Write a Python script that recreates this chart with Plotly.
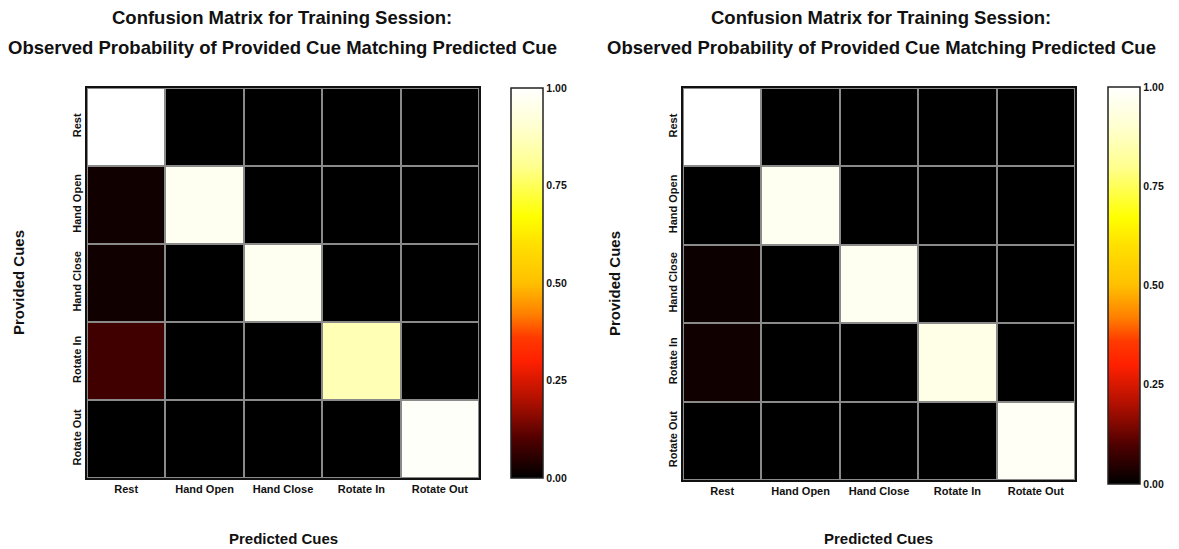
import plotly.graph_objects as go

cues = ["Rest", "Hand Open", "Hand Close", "Rotate In", "Rotate Out"]
cbar_ticks = [0.0, 0.25, 0.5, 0.75, 1.0]

# rows = provided cue, columns = predicted cue
left_matrix = [
    [1.00, 0.00, 0.00, 0.00, 0.00],
    [0.02, 0.97, 0.00, 0.00, 0.00],
    [0.02, 0.00, 0.97, 0.00, 0.00],
    [0.08, 0.00, 0.00, 0.86, 0.00],
    [0.00, 0.00, 0.00, 0.00, 0.99],
]
right_matrix = [
    [1.00, 0.00, 0.00, 0.00, 0.00],
    [0.00, 0.97, 0.00, 0.00, 0.00],
    [0.015, 0.00, 0.97, 0.00, 0.00],
    [0.02, 0.00, 0.00, 0.95, 0.00],
    [0.00, 0.00, 0.00, 0.00, 0.98],
]

title_text = ("Confusion Matrix for Training Session:",
              "Observed Probability of Provided Cue Matching Predicted Cue")

colorscale = [
    [0.00, "#000000"], [0.10, "#500000"], [0.20, "#b01000"], [0.30, "#ff2000"],
    [0.36, "#ff3a00"], [0.42, "#ff8000"], [0.50, "#ffc000"], [0.60, "#ffe000"],
    [0.67, "#ffff00"], [0.80, "#ffff90"], [0.90, "#ffffd0"], [1.00, "#ffffff"],
]

W, H = 1179, 549
FONT = "Liberation Sans, Arial, sans-serif"

def px(v):
    return v / W

def py(v):
    return 1 - v / H

panels = [
    dict(mat=left_matrix, x0=87, x1=479, y0=88, y1=478, cbx=511, cby0=88, cby1=478, cx=282),
    dict(mat=right_matrix, x0=683, x1=1075, y0=88, y1=480, cbx=1108, cby0=87, cby1=484, cx=881),
]

fig = go.Figure()
annotations = []
for i, p in enumerate(panels):
    xa = "x" if i == 0 else "x2"
    ya = "y" if i == 0 else "y2"
    fig.add_trace(go.Heatmap(
        z=p["mat"], x=cues, y=cues, xaxis=xa, yaxis=ya,
        zmin=0, zmax=1, colorscale=colorscale, xgap=2, ygap=2,
        colorbar=dict(
            x=px(p["cbx"]), xanchor="left", xpad=0, ypad=0,
            y=py(p["cby0"]), yanchor="top",
            len=p["cby1"] - p["cby0"], lenmode="pixels",
            thickness=32, thicknessmode="pixels",
            outlinewidth=1.5, outlinecolor="#222222",
            tickvals=cbar_ticks, tickformat=".2f", ticks="",
            tickfont=dict(family=FONT, size=10.5, color="#111111", weight="bold"),
        ),
    ))
    axis_common = dict(
        showgrid=False, zeroline=False, ticks="",
        showline=True, mirror=True, linecolor="#111111", linewidth=2,
        tickfont=dict(family=FONT, size=11, color="#111111", weight="bold"),
    )
    fig.update_layout(**{
        ("xaxis" if i == 0 else "xaxis2"): dict(
            domain=[px(p["x0"]), px(p["x1"])], anchor=ya, **axis_common),
        ("yaxis" if i == 0 else "yaxis2"): dict(
            domain=[py(p["y1"]), py(p["y0"])], anchor=xa, autorange="reversed",
            tickangle=-90, **axis_common),
    })
    # titles
    annotations.append(dict(text="<b>%s</b>" % title_text[0], x=px(p["cx"]), y=py(17),
                            xref="paper", yref="paper", showarrow=False,
                            xanchor="center", yanchor="middle",
                            font=dict(family=FONT, size=18.5, color="#111111")))
    annotations.append(dict(text="<b>%s</b>" % title_text[1], x=px(p["cx"]), y=py(48),
                            xref="paper", yref="paper", showarrow=False,
                            xanchor="center", yanchor="middle",
                            font=dict(family=FONT, size=18.5, color="#111111")))
    # axis titles
    annotations.append(dict(text="<b>Predicted Cues</b>", x=px((p["x0"] + p["x1"]) / 2), y=py(538),
                            xref="paper", yref="paper", showarrow=False,
                            xanchor="center", yanchor="middle",
                            font=dict(family=FONT, size=15, color="#111111")))
    annotations.append(dict(text="<b>Provided Cues</b>", x=px(p["x0"] - 69), y=py((p["y0"] + p["y1"]) / 2),
                            xref="paper", yref="paper", showarrow=False, textangle=-90,
                            xanchor="center", yanchor="middle",
                            font=dict(family=FONT, size=15, color="#111111")))

fig.update_layout(
    width=W, height=H,
    margin=dict(l=0, r=0, t=0, b=0),
    paper_bgcolor="white", plot_bgcolor="#8a8a8a",
    annotations=annotations,
    showlegend=False,
)

fig.write_html("out.html", config={"displayModeBar": False},
               post_script="document.body.style.margin='0px';document.body.style.overflow='hidden';")
